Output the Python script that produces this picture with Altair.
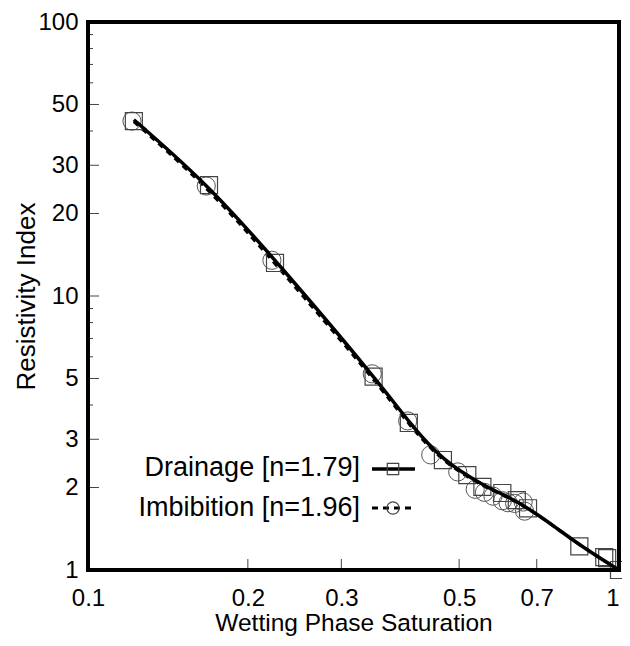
import altair as alt
import pandas as pd

FONT = "Liberation Sans"

sw_drain = [0.122, 0.169, 0.225, 0.345, 0.402, 0.466, 0.518, 0.553, 0.603, 0.642, 0.674, 0.842, 0.938, 0.950, 1.0]
ri_drain = [43.5, 25.4, 13.2, 5.08, 3.44, 2.52, 2.22, 2.01, 1.91, 1.80, 1.68, 1.22, 1.115, 1.105, 1.0]

sw_imb = [0.121, 0.167, 0.222, 0.343, 0.400, 0.442, 0.497, 0.536, 0.558, 0.579, 0.603, 0.618, 0.636, 0.660, 0.664]
ri_imb = [43.5, 25.2, 13.5, 5.2, 3.50, 2.63, 2.28, 1.97, 1.92, 1.86, 1.79, 1.76, 1.75, 1.77, 1.64]

# Fitted curves
curve_sw = [0.122, 0.168, 0.227, 0.345, 0.405, 0.466, 0.560, 0.603, 0.642, 0.700, 0.756, 0.860, 1.0]
drain_curve = [44.0, 25.6, 13.3, 5.12, 3.40, 2.50, 2.02, 1.89, 1.78, 1.60, 1.44, 1.20, 1.0]
imb_curve = [43.3, 25.0, 12.9, 5.0, 3.33, 2.47, 2.00, 1.88, 1.77, 1.60, 1.44, 1.20, 1.0]

# Axis ticks / labels
x_major = [0.1, 0.2, 0.3, 0.5, 0.7, 1.0]
x_inner_ticks = [0.2, 0.3, 0.5, 0.7]
y_major = [1, 2, 3, 5, 10, 20, 30, 50, 100]
y_minor = [4, 6, 7, 8, 9, 40, 60, 70, 80, 90]
legend_labels = ["Drainage [n=1.79]", "Imbibition [n=1.96]"]

W, H = 531, 548

xs = alt.Scale(type="log", domain=[0.1, 1], nice=False)
ys = alt.Scale(type="log", domain=[1, 100], nice=False)

pts_d = pd.DataFrame({"sw": sw_drain, "ri": ri_drain})
pts_i = pd.DataFrame({"sw": sw_imb, "ri": ri_imb})
curve_d = pd.DataFrame({"sw": curve_sw, "ri": drain_curve})
curve_i = pd.DataFrame({"sw": curve_sw, "ri": imb_curve})
one = pd.DataFrame({"k": [0]})

X = alt.X("sw:Q", scale=xs, title="Wetting Phase Saturation",
          axis=alt.Axis(values=x_major, format="~g", ticks=False, domain=False, grid=False,
                        labelPadding=16, titlePadding=1, labelFontSize=24, titleFontSize=24.5,
                        labelFont=FONT, titleFont=FONT, labelColor="black", titleColor="black",
                        titleFontWeight="normal", labelFlush=False,
                        labelAlign={"condition": {"test": "datum.value == 1", "value": "right"},
                                    "value": "center"}))
Y = alt.Y("ri:Q", scale=ys, title="Resistivity Index",
          axis=alt.Axis(values=y_major, format="~g", ticks=False, domain=False, grid=False,
                        labelPadding=10, titlePadding=-2, labelFontSize=24, titleFontSize=26,
                        labelFont=FONT, titleFont=FONT, labelColor="black", titleColor="black",
                        titleFontWeight="normal", labelFlush=False))

line_i = alt.Chart(curve_i).mark_line(color="black", strokeWidth=3, strokeDash=[6, 5],
                                      interpolate="basis").encode(x=X, y=Y)
line_d = alt.Chart(curve_d).mark_line(color="black", strokeWidth=3.5,
                                      interpolate="basis").encode(
    x=alt.X("sw:Q", scale=xs), y=alt.Y("ri:Q", scale=ys))

sq = alt.Chart(pts_d).mark_point(shape="square", filled=False, size=290, color="#444",
                                 strokeWidth=1.2, opacity=1).encode(
    x=alt.X("sw:Q", scale=xs), y=alt.Y("ri:Q", scale=ys))
ci = alt.Chart(pts_i).mark_point(shape="circle", filled=False, size=330, color="#555",
                                 strokeWidth=1, opacity=1).encode(
    x=alt.X("sw:Q", scale=xs), y=alt.Y("ri:Q", scale=ys))

# inward ticks
xt = alt.Chart(pd.DataFrame({"v": x_inner_ticks})).mark_rule(color="#444", strokeWidth=1).encode(
    x=alt.X("v:Q", scale=xs), y=alt.value(H), y2=alt.value(H - 11))
yt_major = alt.Chart(pd.DataFrame({"v": y_major})).mark_rule(color="#444", strokeWidth=1).encode(
    y=alt.Y("v:Q", scale=ys), x=alt.value(0), x2=alt.value(11))
yt_minor = alt.Chart(pd.DataFrame({"v": y_minor})).mark_rule(color="#444", strokeWidth=1).encode(
    y=alt.Y("v:Q", scale=ys), x=alt.value(0), x2=alt.value(5))

# heavy frame around the plot area
frame = alt.Chart(one).mark_rect(fillOpacity=0, stroke="black", strokeWidth=4).encode(
    x=alt.value(0), x2=alt.value(W), y=alt.value(0), y2=alt.value(H))

# custom legend (labels left of symbols, as in the reference)
LX = 272
leg_text_d = alt.Chart(pd.DataFrame({"t": [legend_labels[0]]})).mark_text(
    align="right", baseline="middle", fontSize=27, font=FONT, color="black").encode(
    text="t:N", x=alt.value(LX), y=alt.value(446))
leg_text_i = alt.Chart(pd.DataFrame({"t": [legend_labels[1]]})).mark_text(
    align="right", baseline="middle", fontSize=27, font=FONT, color="black").encode(
    text="t:N", x=alt.value(LX), y=alt.value(486))
leg_line_d = alt.Chart(one).mark_rule(color="black", strokeWidth=3.5).encode(
    x=alt.value(LX + 12), x2=alt.value(LX + 55), y=alt.value(447))
leg_line_i = alt.Chart(one).mark_rule(color="black", strokeWidth=3, strokeDash=[6, 5]).encode(
    x=alt.value(LX + 12), x2=alt.value(LX + 55), y=alt.value(486))
leg_sq = alt.Chart(one).mark_point(
    shape="square", filled=False, size=130, color="#444", strokeWidth=1.2, opacity=1).encode(
    x=alt.value(LX + 33), y=alt.value(447))
leg_ci = alt.Chart(one).mark_point(
    shape="circle", filled=False, size=150, color="#444", strokeWidth=1.2, opacity=1).encode(
    x=alt.value(LX + 33), y=alt.value(486))

chart = alt.layer(
    xt, yt_major, yt_minor, line_i, ci, sq, line_d, frame,
    leg_text_d, leg_text_i, leg_line_d, leg_line_i, leg_sq, leg_ci
).properties(
    width=W, height=H,
    autosize=alt.AutoSizeParams(type="none"),
    padding={"left": 80, "top": 14, "right": 3, "bottom": 67},
).configure_view(
    stroke=None
).configure(background="white")

chart.save("out.html", embed_options={"renderer": "svg", "actions": False})
